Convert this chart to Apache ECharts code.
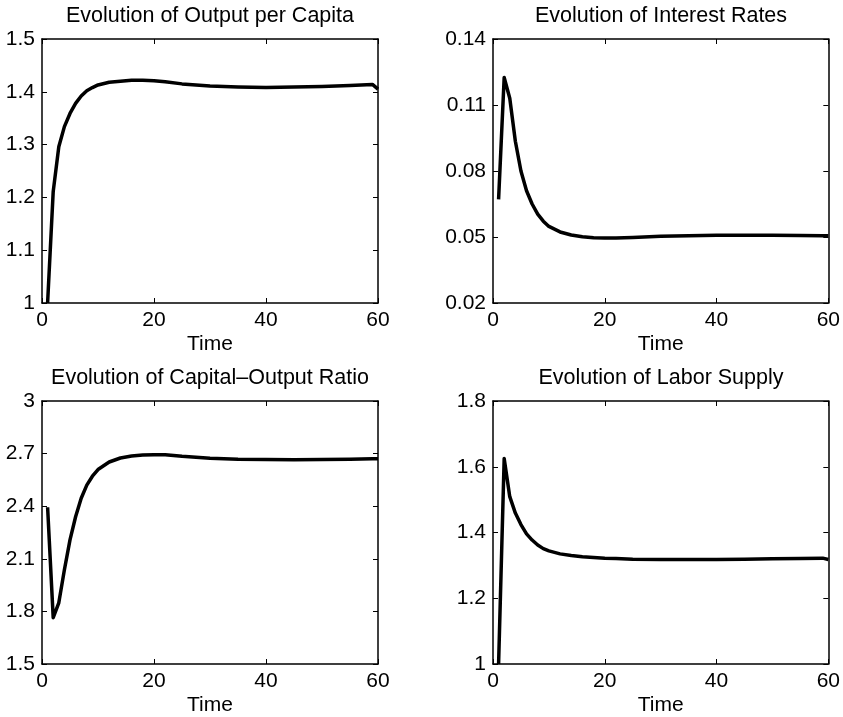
<!DOCTYPE html>
<html>
<head>
<meta charset="utf-8">
<script src="https://cdn.jsdelivr.net/npm/echarts@6/dist/echarts.min.js"></script>
<style>
html,body{margin:0;padding:0;background:#fff;}
#chart{width:843px;height:717px;}
</style>
</head>
<body>
<div id="chart"></div>
<script>
// ---- data ----
var time = [1,2,3,4,5,6,7,8,9,10,12,14,16,18,20,22,25,30,35,40,45,50,55,59,60];
var outputPerCapita = [1.000,1.211,1.296,1.334,1.359,1.378,1.392,1.402,1.408,1.413,1.418,1.420,1.422,1.422,1.421,1.419,1.415,1.411,1.409,1.408,1.409,1.410,1.412,1.414,1.405];
var interestRates = [0.0671,0.1225,0.1131,0.0935,0.0800,0.0710,0.0650,0.0604,0.0572,0.0548,0.0523,0.0509,0.0501,0.0497,0.0495,0.0495,0.0498,0.0503,0.0506,0.0508,0.0508,0.0508,0.0507,0.0506,0.0506];
var capitalOutput = [2.394,1.764,1.849,2.038,2.208,2.340,2.445,2.520,2.571,2.609,2.652,2.675,2.686,2.692,2.694,2.694,2.685,2.674,2.668,2.666,2.665,2.666,2.668,2.670,2.670];
var laborSupply = [1.000,1.625,1.509,1.459,1.424,1.396,1.377,1.362,1.351,1.344,1.335,1.330,1.326,1.324,1.322,1.321,1.319,1.318,1.318,1.318,1.319,1.320,1.321,1.322,1.318];

var xTicks = [0,20,40,60];
var yTicksOutput = [1,1.1,1.2,1.3,1.4,1.5];
var yTicksInterest = [0.02,0.05,0.08,0.11,0.14];
var yTicksCapital = [1.5,1.8,2.1,2.4,2.7,3];
var yTicksLabor = [1,1.2,1.4,1.6,1.8];

var titles = ['Evolution of Output per Capita','Evolution of Interest Rates','Evolution of Capital\u2013Output Ratio','Evolution of Labor Supply'];
var xAxisName = 'Time';

// ---- layout ----
var FONT = 'Liberation Sans, Arial, Helvetica, sans-serif';
var panels = [
  {left:42, top:39, w:336, h:264, y:outputPerCapita, yt:yTicksOutput},
  {left:493, top:39, w:336, h:264, y:interestRates, yt:yTicksInterest},
  {left:42, top:401, w:336, h:264, y:capitalOutput, yt:yTicksCapital},
  {left:493, top:401, w:336, h:264, y:laborSupply, yt:yTicksLabor}
];

function pairs(xs, ys){ return xs.map(function(x,i){return [x, ys[i]];}); }

var grid=[], xAxis=[], yAxis=[], series=[], title=[];
var lineCol = '#000';
panels.forEach(function(p, i){
  grid.push({left:p.left, top:p.top, width:p.w, height:p.h, containLabel:false});
  var ymin = p.yt[0], ymax = p.yt[p.yt.length-1];
  var tickCommon = {show:true, inside:true, length:5, lineStyle:{color:lineCol, width:1}};
  xAxis.push({
    type:'value', gridIndex:i, position:'bottom', min:xTicks[0], max:xTicks[xTicks.length-1],
    axisLine:{show:true, onZero:false, lineStyle:{color:lineCol, width:1.5}},
    axisTick:Object.assign({customValues:xTicks}, tickCommon),
    axisLabel:{customValues:xTicks, color:'#000', fontSize:21, fontFamily:FONT, margin:7},
    splitLine:{show:false},
    name:xAxisName, nameLocation:'middle', nameGap:31,
    nameTextStyle:{color:'#000', fontSize:21, fontFamily:FONT}
  });
  xAxis.push({
    type:'value', gridIndex:i, position:'top', min:xTicks[0], max:xTicks[xTicks.length-1],
    axisLine:{show:true, onZero:false, lineStyle:{color:lineCol, width:1.5}},
    axisTick:Object.assign({customValues:xTicks}, tickCommon),
    axisLabel:{show:false}, splitLine:{show:false}
  });
  yAxis.push({
    type:'value', gridIndex:i, position:'left', min:ymin, max:ymax,
    axisLine:{show:true, onZero:false, lineStyle:{color:lineCol, width:1.5}},
    axisTick:Object.assign({customValues:p.yt}, tickCommon),
    axisLabel:{customValues:p.yt, color:'#000', fontSize:21, fontFamily:FONT, margin:7},
    splitLine:{show:false}
  });
  yAxis.push({
    type:'value', gridIndex:i, position:'right', min:ymin, max:ymax,
    axisLine:{show:true, onZero:false, lineStyle:{color:lineCol, width:1.5}},
    axisTick:Object.assign({customValues:p.yt}, tickCommon),
    axisLabel:{show:false}, splitLine:{show:false}
  });
  series.push({
    type:'line', xAxisIndex:i*2, yAxisIndex:i*2, data:pairs(time, p.y),
    showSymbol:false, symbol:'none', smooth:false, clip:true, animation:false,
    lineStyle:{color:'#000', width:3.5, join:'round', cap:'butt'}
  });
  title.push({
    text:titles[i], left:p.left + p.w/2, top:p.top - 34, textAlign:'center', padding:0,
    textStyle:{color:'#000', fontSize:21.5, fontWeight:'normal', fontFamily:FONT}
  });
});

var chart = echarts.init(document.getElementById('chart'), null, {renderer:'canvas'});
chart.setOption({
  backgroundColor:'#fff',
  animation:false,
  title:title, grid:grid, xAxis:xAxis, yAxis:yAxis, series:series
});
</script>
</body>
</html>
